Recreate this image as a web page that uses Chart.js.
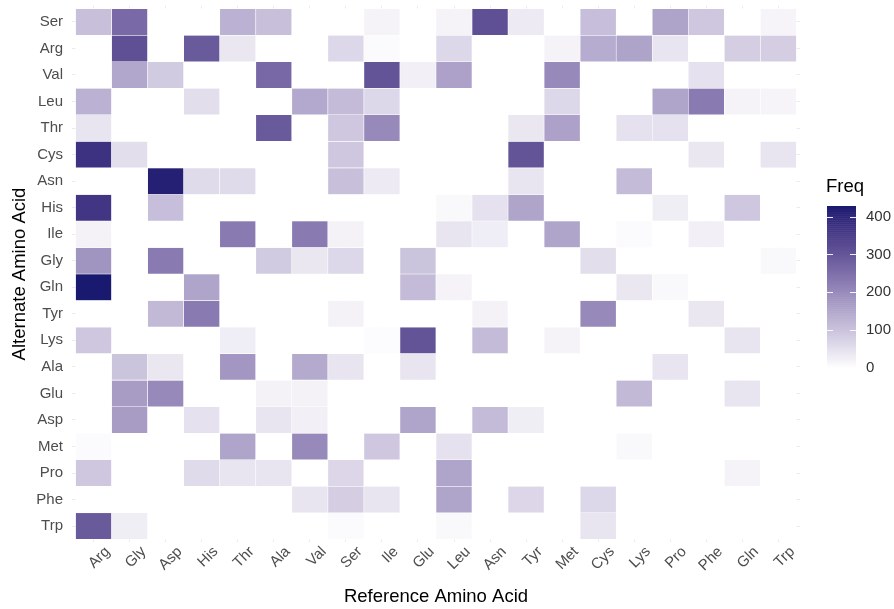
<!DOCTYPE html>
<html>
<head>
<meta charset="utf-8">
<script src="https://cdn.jsdelivr.net/npm/chart.js@4/dist/chart.umd.min.js"></script>
<style>
  html, body { margin: 0; padding: 0; background: #ffffff; }
  #wrap { width: 894px; height: 609px; }
</style>
</head>
<body>
<div id="wrap"><canvas id="heat" width="894" height="609"></canvas></div>
<script>
// Reference (x) and alternate (y, top to bottom) amino acids
const refAcids = ['Arg','Gly','Asp','His','Thr','Ala','Val','Ser','Ile','Glu','Leu','Asn','Tyr','Met','Cys','Lys','Pro','Phe','Gln','Trp'];
const altAcids = ['Ser','Arg','Val','Leu','Thr','Cys','Asn','His','Ile','Gly','Gln','Tyr','Lys','Ala','Glu','Asp','Met','Pro','Phe','Trp'];

// Substitution counts, one array per alternate amino acid (columns follow refAcids)
const altSer = [106, 262,   0,   0, 132, 106,   0,   0,  20,   0,  20, 313,  35,   0, 110,   0, 158,  95,   0,  18];
const altArg = [  0, 313,   0, 293,  40,   0,   0,  65,   8,   0,  65,   0,   0,  20, 142, 158,  45,   0,  82,  82];
const altVal = [  0, 152,  88,   0,   0, 265,   0,   0, 305,  25, 160,   0,   0, 203,   0,   0,   0,  50,   0,   0];
const altLeu = [132,   0,   0,  55,   0,   0, 148, 115,  65,   0,   0,   0,   0,  65,   0,   0, 155, 230,  20,  18];
const altThr = [ 45,   0,   0,   0,   0, 293,   0,  95, 203,   0,   0,   0,  40, 160,   0,  50,  50,   0,   0,   0];
const altCys = [375,  55,   0,   0,   0,   0,   0,  95,   0,   0,   0,   0, 305,   0,   0,   0,   0,  40,   0,  45];
const altAsn = [  0,   0, 412,  60,  60,   0,   0, 106,  35,   0,   0,   0,  45,   0,   0, 115,   0,   0,   0,   0];
const altHis = [368,   0, 110,   0,   0,   0,   0,   0,   0,   0,  12,  50, 155,   0,   0,   0,  28,   0,  95,   0];
const altIle = [ 22,   0,   0,   0, 230,   0, 230,  22,   0,   0,  45,  30,   0, 155,   0,   8,   0,  25,   0,   0];
const altGly = [185,   0, 230,   0,   0,  88,  40,  65,   0, 100,   0,   0,   0,   0,  55,   0,   0,   0,   0,  12];
const altGln = [428,   0,   0, 155,   0,   0,   0,   0,   0, 115,  20,   0,   0,   0,   0,  40,  12,   0,   0,   0];
const altTyr = [  0,   0, 118, 230,   0,   0,   0,  22,   0,   0,   0,  22,   0,   0, 203,   0,   0,  40,   0,   0];
const altLys = [ 95,   0,   0,   0,  30,   0,   0,   0,   6, 305,   0, 115,   0,  20,   0,   0,   0,   0,  45,   0];
const altAla = [  0, 100,  40,   0, 180,   0, 145,  45,   0,  45,   0,   0,   0,   0,   0,   0,  45,   0,   0,   0];
const altGlu = [  0, 170, 203,   0,   0,  22,  22,   0,   0,   0,   0,   0,   0,   0,   0, 118,   0,   0,  45,   0];
const altAsp = [  0, 170,   0,  50,   0,  45,  25,   0,   0, 155,   0, 115,  28,   0,   0,   0,   0,   0,   0,   0];
const altMet = [  8,   0,   0,   0, 155,   0, 203,   0,  95,   0,  50,   0,   0,   0,   0,  12,   0,   0,   0,   0];
const altPro = [ 95,   0,   0,  60,  45,  45,   0,  68,   0,   0, 155,   0,   0,   0,   0,   0,   0,   0,  20,   0];
const altPhe = [  0,   0,   0,   0,   0,   0,  45,  82,  45,   0, 155,   0,  68,   0,  65,   0,   0,   0,   0,   0];
const altTrp = [293,  28,   0,   0,   0,   0,   0,   8,   0,   0,  12,   0,   0,   0,  45,   0,   0,   0,   0,   0];

const freqRows = [altSer, altArg, altVal, altLeu, altThr, altCys, altAsn, altHis, altIle, altGly,
                  altGln, altTyr, altLys, altAla, altGlu, altAsp, altMet, altPro, altPhe, altTrp];

// Colour bar tick values
const legendTicks = [0, 100, 200, 300, 400];

// ---- white -> midnightblue gradient, interpolated in CIE Lab ----
function srgbToLin(c) { c /= 255; return c <= 0.04045 ? c / 12.92 : Math.pow((c + 0.055) / 1.055, 2.4); }
function linToSrgb(c) { const v = c <= 0.0031308 ? 12.92 * c : 1.055 * Math.pow(c, 1 / 2.4) - 0.055; return Math.round(Math.max(0, Math.min(1, v)) * 255); }
const WHITE_REF = [0.95047, 1.0, 1.08883];
function rgbToLab(r, g, b) {
  const R = srgbToLin(r), G = srgbToLin(g), B = srgbToLin(b);
  const X = (R * 0.4124 + G * 0.3576 + B * 0.1805) / WHITE_REF[0];
  const Y = (R * 0.2126 + G * 0.7152 + B * 0.0722) / WHITE_REF[1];
  const Z = (R * 0.0193 + G * 0.1192 + B * 0.9505) / WHITE_REF[2];
  const f = t => t > 0.008856 ? Math.cbrt(t) : 7.787 * t + 16 / 116;
  const fx = f(X), fy = f(Y), fz = f(Z);
  return [116 * fy - 16, 500 * (fx - fy), 200 * (fy - fz)];
}
function labToRgb(L, a, bb) {
  const fy = (L + 16) / 116, fx = fy + a / 500, fz = fy - bb / 200;
  const inv = t => { const t3 = t * t * t; return t3 > 0.008856 ? t3 : (t - 16 / 116) / 7.787; };
  const X = inv(fx) * WHITE_REF[0], Y = inv(fy) * WHITE_REF[1], Z = inv(fz) * WHITE_REF[2];
  const R = X * 3.2406 + Y * -1.5372 + Z * -0.4986;
  const G = X * -0.9689 + Y * 1.8758 + Z * 0.0415;
  const B = X * 0.0557 + Y * -0.2040 + Z * 1.0570;
  return [linToSrgb(R), linToSrgb(G), linToSrgb(B)];
}
const LOW_LAB = rgbToLab(255, 255, 255);
const HIGH_LAB = rgbToLab(25, 25, 112);
const allValues = freqRows.flat();
const maxFreq = Math.max(...allValues);
function fillFor(v) {
  const t = Math.max(0, Math.min(1, v / maxFreq));
  const lab = [0, 1, 2].map(k => LOW_LAB[k] + (HIGH_LAB[k] - LOW_LAB[k]) * t);
  const [r, g, b] = labToRgb(lab[0], lab[1], lab[2]);
  return `rgb(${r},${g},${b})`;
}

// One floating-bar dataset per alternate amino acid row; each bar spans one grid cell
const datasets = altAcids.map((alt, j) => ({
  label: alt,
  data: freqRows[j].map((v, i) => ({ x: i, y: [j - 0.5, j + 0.5] })),
  backgroundColor: freqRows[j].map(fillFor),
  borderColor: '#ffffff',
  borderWidth: 0.6,
  borderSkipped: false,
  barPercentage: 1,
  categoryPercentage: 1,
  grouped: false
}));

const FONT = "'Liberation Sans', Arial, Helvetica, sans-serif";

// Continuous colour bar drawn to the right of the panel
const colourBar = {
  id: 'colourBar',
  afterDraw(chart) {
    const ctx = chart.ctx;
    const x0 = 827, w = 29, top = 206, bottom = 368;
    const yOf = v => bottom - (bottom - top) * (v / maxFreq);
    ctx.save();
    ctx.fillStyle = '#000000';
    ctx.font = `18.5px ${FONT}`;
    ctx.textAlign = 'left';
    ctx.textBaseline = 'middle';
    ctx.fillText('Freq', 826, 187);
    const steps = 80;
    for (let s = 0; s < steps; s++) {
      const v0 = maxFreq * s / steps, v1 = maxFreq * (s + 1) / steps;
      ctx.fillStyle = fillFor((v0 + v1) / 2);
      ctx.fillRect(x0, yOf(v1), w, yOf(v0) - yOf(v1) + 0.5);
    }
    ctx.strokeStyle = 'rgba(255,255,255,0.9)';
    ctx.lineWidth = 1;
    ctx.fillStyle = '#333333';
    ctx.font = `15px ${FONT}`;
    legendTicks.forEach(v => {
      const y = Math.round(yOf(v)) + 0.5;
      ctx.beginPath();
      ctx.moveTo(x0, y); ctx.lineTo(x0 + 6, y);
      ctx.moveTo(x0 + w - 6, y); ctx.lineTo(x0 + w, y);
      ctx.stroke();
      ctx.fillText(String(v), 866, yOf(v));
    });
    ctx.restore();
  }
};

const integerTicks = n => scale => { scale.ticks = Array.from({ length: n }, (_, i) => ({ value: i })); };

new Chart(document.getElementById('heat'), {
  type: 'bar',
  data: { datasets },
  options: {
    responsive: false,
    animation: false,
    events: [],
    layout: { padding: { top: 6, right: 94, bottom: 0, left: 0 } },
    plugins: { legend: { display: false }, tooltip: { enabled: false } },
    scales: {
      x: {
        type: 'linear',
        offset: false,
        min: -0.6,
        max: 19.6,
        afterBuildTicks: integerTicks(refAcids.length),
        afterFit: scale => { scale.height = 67; scale.paddingLeft = 0; scale.paddingRight = 0; },
        grid: { color: '#ebebeb', lineWidth: 1, drawTicks: false, offset: false },
        border: { display: false },
        ticks: {
          callback: v => refAcids[v],
          color: '#4d4d4d',
          font: { family: FONT, size: 15 },
          minRotation: 45,
          maxRotation: 45,
          autoSkip: false,
          padding: 1,
          labelOffset: 14
        },
        title: {
          display: true,
          text: 'Reference Amino Acid',
          color: '#000000',
          font: { family: FONT, size: 18.5 },
          padding: { top: 0, bottom: 1 }
        }
      },
      y: {
        type: 'linear',
        reverse: true,
        offset: false,
        min: -0.6,
        max: 19.6,
        afterBuildTicks: integerTicks(altAcids.length),
        afterFit: scale => { scale.width = 72; scale.paddingTop = 0; scale.paddingBottom = 0; },
        grid: { color: '#ebebeb', lineWidth: 1, drawTicks: false },
        border: { display: false },
        ticks: {
          callback: v => altAcids[v],
          color: '#4d4d4d',
          font: { family: FONT, size: 15 },
          autoSkip: false,
          padding: 9
        },
        title: {
          display: true,
          text: 'Alternate Amino Acid',
          color: '#000000',
          font: { family: FONT, size: 18.5 },
          padding: { top: 9, bottom: 0 }
        }
      }
    }
  },
  plugins: [colourBar]
});
</script>
</body>
</html>
